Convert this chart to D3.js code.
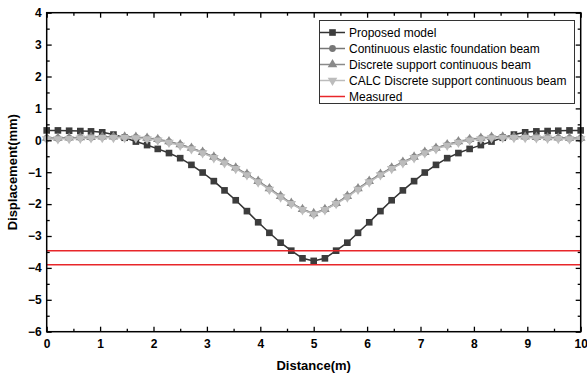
<!DOCTYPE html>
<html>
<head>
<meta charset="utf-8">
<script src="https://cdn.jsdelivr.net/npm/d3@7"></script>
<style>
  body { margin: 0; background: #fff; }
  text { font-family: Arial, "Liberation Sans", sans-serif; }
  .tick-label { font-weight: bold; font-size: 12px; }
  .axis-title { font-weight: bold; font-size: 13px; }
  .legend text { font-size: 12px; }
</style>
</head>
<body>
<div id="chart"></div>
<script>
// distance along the beam (m)
const distance = [0, 0.21, 0.42, 0.63, 0.83, 1.04, 1.25, 1.46, 1.67, 1.88, 2.08, 2.29, 2.5, 2.71, 2.92, 3.13, 3.33, 3.54, 3.75, 3.96, 4.17, 4.38, 4.58, 4.79, 5,
                  5.21, 5.42, 5.63, 5.83, 6.04, 6.25, 6.46, 6.67, 6.88, 7.08, 7.29, 7.5, 7.71, 7.92, 8.13, 8.33, 8.54, 8.75, 8.96, 9.17, 9.38, 9.58, 9.79, 10];

const proposed = [0.31, 0.31, 0.30, 0.29, 0.28, 0.25, 0.18, 0.08, -0.04, -0.15, -0.27, -0.40, -0.56, -0.77, -1.01, -1.28, -1.57, -1.88, -2.22, -2.57, -2.90, -3.21, -3.46, -3.70, -3.78,
                  -3.70, -3.46, -3.21, -2.90, -2.57, -2.22, -1.88, -1.57, -1.28, -1.01, -0.77, -0.56, -0.40, -0.27, -0.15, -0.04, 0.08, 0.18, 0.25, 0.28, 0.29, 0.30, 0.31, 0.31];

const continuous = [0.06, 0.06, 0.07, 0.08, 0.09, 0.10, 0.10, 0.10, 0.09, 0.06, 0.02, -0.05, -0.14, -0.25, -0.38, -0.53, -0.69, -0.87, -1.07, -1.29, -1.52, -1.76, -1.98, -2.17, -2.31,
                    -2.17, -1.98, -1.76, -1.52, -1.29, -1.07, -0.87, -0.69, -0.53, -0.38, -0.25, -0.14, -0.05, 0.02, 0.06, 0.09, 0.10, 0.10, 0.10, 0.09, 0.08, 0.07, 0.06, 0.06];

const discrete = [0.07, 0.07, 0.08, 0.09, 0.10, 0.11, 0.11, 0.11, 0.10, 0.07, 0.03, -0.04, -0.13, -0.24, -0.37, -0.52, -0.68, -0.86, -1.06, -1.28, -1.51, -1.75, -1.97, -2.16, -2.29,
                  -2.16, -1.97, -1.75, -1.51, -1.28, -1.06, -0.86, -0.68, -0.52, -0.37, -0.24, -0.13, -0.04, 0.03, 0.07, 0.10, 0.11, 0.11, 0.11, 0.10, 0.09, 0.08, 0.07, 0.07];

const calc = [0.04, 0.04, 0.05, 0.06, 0.07, 0.08, 0.08, 0.08, 0.07, 0.04, 0.00, -0.07, -0.16, -0.27, -0.40, -0.55, -0.71, -0.89, -1.09, -1.31, -1.54, -1.78, -1.99, -2.18, -2.32,
              -2.18, -1.99, -1.78, -1.54, -1.31, -1.09, -0.89, -0.71, -0.55, -0.40, -0.27, -0.16, -0.07, 0.00, 0.04, 0.07, 0.08, 0.08, 0.08, 0.07, 0.06, 0.05, 0.04, 0.04];

// measured displacement band (two readings)
const measured = [-3.46, -3.90];

const seriesNames = ['Proposed model', 'Continuous elastic foundation beam', 'Discrete support continuous beam',
                     'CALC Discrete support continuous beam', 'Measured'];

const xTicks = [0, 1, 2, 3, 4, 5, 6, 7, 8, 9, 10];
const yTicks = [4, 3, 2, 1, 0, -1, -2, -3, -4, -5, -6];

const width = 587, height = 374;
const margin = {top: 12.7, right: 6.3, bottom: 42.3, left: 46.7};

const svg = d3.select('#chart')
    .append('svg')
    .attr('width', width)
    .attr('height', height);

const x = d3.scaleLinear().domain([0, 10]).range([margin.left, width - margin.right]);
const y = d3.scaleLinear().domain([-6, 4]).range([height - margin.bottom, margin.top]);

const series = [
    {name: seriesNames[0], values: proposed, line: '#333', fill: '#3c3c3c', symbol: d3.symbolSquare, size: 44, rot: 0},
    {name: seriesNames[1], values: continuous, line: '#777', fill: '#777', symbol: d3.symbolCircle, size: 36, rot: 0},
    {name: seriesNames[2], values: discrete, line: '#8a8a8a', fill: '#8a8a8a', symbol: d3.symbolTriangle, size: 40, rot: 0},
    {name: seriesNames[3], values: calc, line: '#bcbcbc', fill: '#bcbcbc', symbol: d3.symbolTriangle, size: 40, rot: 180}
];

const line = d3.line()
    .x((d, i) => x(distance[i]))
    .y(d => y(d));

// data series
series.forEach(s => {
    const g = svg.append('g');
    g.append('path')
        .datum(s.values)
        .attr('fill', 'none')
        .attr('stroke', s.line)
        .attr('stroke-width', 1.5)
        .attr('d', line);
    g.selectAll('path.mark')
        .data(s.values)
        .join('path')
        .attr('class', 'mark')
        .attr('d', d3.symbol().type(s.symbol).size(s.size))
        .attr('fill', s.fill)
        .attr('transform', (d, i) => `translate(${x(distance[i])},${y(d)}) rotate(${s.rot})`);
});

// measured lines
svg.append('g')
    .selectAll('line')
    .data(measured)
    .join('line')
    .attr('x1', x(0))
    .attr('x2', x(10))
    .attr('y1', d => y(d))
    .attr('y2', d => y(d))
    .attr('stroke', '#e8262a')
    .attr('stroke-width', 1.5);

// axes - frame with inward ticks
const xAxis = d3.axisBottom(x).tickValues(xTicks).tickSize(-5).tickFormat(d3.format('d'));
const xMinor = d3.axisBottom(x).tickValues(d3.range(0.5, 10, 1)).tickSize(-3).tickFormat('');
const yAxis = d3.axisLeft(y).tickValues(yTicks).tickSize(-5).tickFormat(d3.format('d'));
const yMinor = d3.axisLeft(y).tickValues(d3.range(-5.5, 4, 1)).tickSize(-3).tickFormat('');

function styleAxis(g, labels) {
    g.select('.domain').remove();
    g.selectAll('.tick line').attr('stroke', '#000').attr('stroke-width', 1.3);
    if (labels) g.selectAll('.tick text').attr('class', 'tick-label').attr('fill', '#000');
}

const bottom = height - margin.bottom;
svg.append('g').attr('transform', `translate(0,${bottom})`).call(xAxis)
    .call(g => styleAxis(g, true))
    .call(g => g.selectAll('.tick text').attr('y', 6).attr('dy', '0.9em'));
svg.append('g').attr('transform', `translate(0,${bottom})`).call(xMinor).call(g => styleAxis(g, false));
svg.append('g').attr('transform', `translate(0,${margin.top})`).call(d3.axisTop(x).tickValues(xTicks).tickSize(-5).tickFormat(''))
    .call(g => styleAxis(g, false));
svg.append('g').attr('transform', `translate(0,${margin.top})`).call(d3.axisTop(x).tickValues(d3.range(0.5, 10, 1)).tickSize(-3).tickFormat(''))
    .call(g => styleAxis(g, false));

svg.append('g').attr('transform', `translate(${margin.left},0)`).call(yAxis)
    .call(g => styleAxis(g, true))
    .call(g => g.selectAll('.tick text').attr('x', -5));
svg.append('g').attr('transform', `translate(${margin.left},0)`).call(yMinor).call(g => styleAxis(g, false));
svg.append('g').attr('transform', `translate(${width - margin.right},0)`).call(d3.axisRight(y).tickValues(yTicks).tickSize(-5).tickFormat(''))
    .call(g => styleAxis(g, false));
svg.append('g').attr('transform', `translate(${width - margin.right},0)`).call(d3.axisRight(y).tickValues(d3.range(-5.5, 4, 1)).tickSize(-3).tickFormat(''))
    .call(g => styleAxis(g, false));

svg.append('rect')
    .attr('x', x(0))
    .attr('y', y(4))
    .attr('width', x(10) - x(0))
    .attr('height', y(-6) - y(4))
    .attr('fill', 'none')
    .attr('stroke', '#000')
    .attr('stroke-width', 1.5);

// axis titles
svg.append('text')
    .attr('class', 'axis-title')
    .attr('x', x(5))
    .attr('y', 370)
    .attr('text-anchor', 'middle')
    .text('Distance(m)');

svg.append('text')
    .attr('class', 'axis-title')
    .attr('transform', `translate(17,${(y(4) + y(-6)) / 2}) rotate(-90)`)
    .attr('text-anchor', 'middle')
    .text('Displacement(mm)');

// legend
const legend = svg.append('g').attr('class', 'legend');
legend.append('rect')
    .attr('x', 319.5)
    .attr('y', 20.5)
    .attr('width', 255)
    .attr('height', 83)
    .attr('fill', '#fff')
    .attr('stroke', '#333')
    .attr('stroke-width', 1);

const legendItems = series.concat([{name: seriesNames[4], line: '#e8262a'}]);
const item = legend.selectAll('g.item')
    .data(legendItems)
    .join('g')
    .attr('class', 'item')
    .attr('transform', (d, i) => `translate(320,${32.5 + i * 16})`);

item.append('line')
    .attr('x1', 0)
    .attr('x2', 25)
    .attr('stroke', d => d.line)
    .attr('stroke-width', 1.5);

item.filter(d => d.symbol)
    .append('path')
    .attr('d', d => d3.symbol().type(d.symbol).size(d.size)())
    .attr('fill', d => d.fill)
    .attr('transform', d => `translate(12.5,0) rotate(${d.rot})`);

item.append('text')
    .attr('x', 29)
    .attr('dy', '0.35em')
    .attr('fill', '#000')
    .text(d => d.name);
</script>
</body>
</html>
